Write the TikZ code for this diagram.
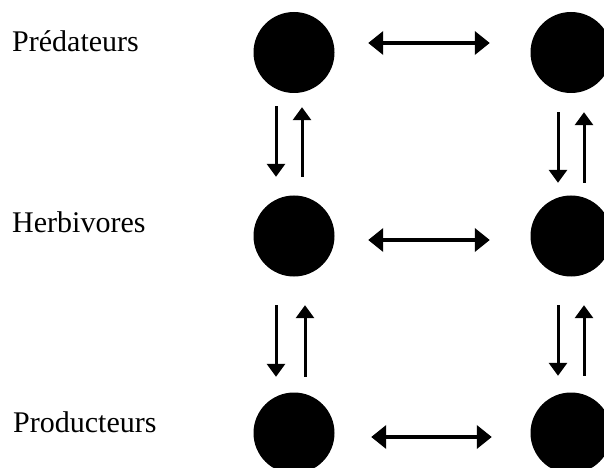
\documentclass[tikz,border=0pt]{standalone}
\usepackage{fontspec}
\setmainfont{Liberation Serif}
\usetikzlibrary{arrows.meta}

\begin{document}
\begin{tikzpicture}[x=1bp, y=-1bp]
		\tikzstyle{Level} = [anchor=base west, inner sep=0pt, font=\fontsize{30bp}{36bp}\selectfont]
		\tikzstyle{Species} = [circle, minimum size=81bp, inner sep=0pt, fill=black]
		\tikzstyle{hlink} = [line width=4bp, {Triangle[width=23bp,length=15bp]}-{Triangle[width=23bp,length=15bp]}]
		\tikzstyle{vlink} = [line width=3bp, -{Triangle[width=18bp,length=13bp]}]

		\useasboundingbox (0,0) rectangle (604,468);
		\clip (0,0) rectangle (604,468);

		% trophic levels
		\node (predLabel) [Level] at (12,52) {Prédateurs};
		\node (herbLabel) [Level] at (12,233) {Herbivores};
		\node (prodLabel) [Level] at (13,432) {Producteurs};

		\node (predL) [Species] at (294,52.5) {};
		\node (predR) [Species] at (571,52.5) {};
		\node (herbL) [Species] at (294,236) {};
		\node (herbR) [Species] at (571,236) {};
		\node (prodL) [Species] at (294,433) {};
		\node (prodR) [Species] at (571,433) {};

		% within a level
		\draw [hlink, shorten <=33.5bp, shorten >=40.5bp] ([yshift=9.5bp]predL.east) -- ([yshift=9.5bp]predR.west);
		\draw [hlink, shorten <=33.5bp, shorten >=40.5bp] ([yshift=-4bp]herbL.east) -- ([yshift=-4bp]herbR.west);
		\draw [hlink, shorten <=36.5bp, shorten >=38.5bp] ([yshift=-4bp]prodL.east) -- ([yshift=-4bp]prodR.west);

		% between levels
		\draw [vlink, shorten <=13bp, shorten >=18.5bp] ([xshift=-18bp]predL.south) -- ([xshift=-18bp]herbL.north);
		\draw [vlink, shorten <=18.5bp, shorten >=14bp] ([xshift=8bp]herbL.north) -- ([xshift=8bp]predL.south);
		\draw [vlink, shorten <=19bp, shorten >=12.5bp] ([xshift=-13bp]predR.south) -- ([xshift=-13bp]herbR.north);
		\draw [vlink, shorten <=12.5bp, shorten >=19bp] ([xshift=13bp]herbR.north) -- ([xshift=13bp]predR.south);

		\draw [vlink, shorten <=28.5bp, shorten >=15.5bp] ([xshift=-18bp]herbL.south) -- ([xshift=-18bp]prodL.north);
		\draw [vlink, shorten <=15.5bp, shorten >=28.5bp] ([xshift=11bp]prodL.north) -- ([xshift=11bp]herbL.south);
		\draw [vlink, shorten <=28.5bp, shorten >=16.5bp] ([xshift=-13bp]herbR.south) -- ([xshift=-13bp]prodR.north);
		\draw [vlink, shorten <=16.5bp, shorten >=28.5bp] ([xshift=13bp]prodR.north) -- ([xshift=13bp]herbR.south);
\end{tikzpicture}
\end{document}
